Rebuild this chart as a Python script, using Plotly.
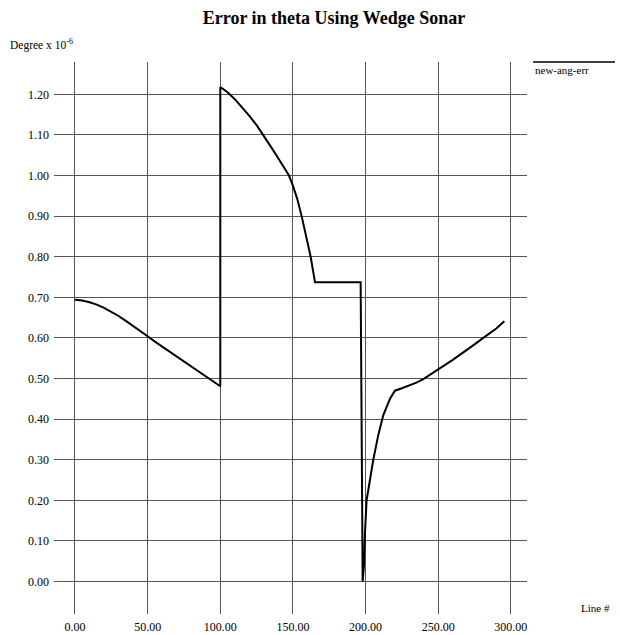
import plotly.graph_objects as go

# Line # values and error values (Degree x 10^-6)
line_no = [0, 5, 10, 15, 20, 25, 30, 35, 40, 45, 50, 55, 60, 65, 70, 75, 80, 85, 90, 95, 100,
           100, 105, 110, 115, 120, 125, 129.6, 135, 140, 144, 147.3, 150, 153, 156, 159, 162.2, 165.2,
           196.6, 198.0, 198.9, 199.6, 200.7, 203, 205.3, 208.7, 212.2, 216.8, 220.2,
           225, 230, 235, 240, 245, 250, 255, 260, 265, 270, 275, 281, 285, 290, 295.5]
err = [0.694, 0.692, 0.688, 0.682, 0.674, 0.665, 0.654, 0.642, 0.630, 0.617, 0.604,
       0.591, 0.579, 0.567, 0.555, 0.543, 0.531, 0.518, 0.506, 0.493, 0.481,
       1.218, 1.205, 1.188, 1.168, 1.147, 1.124, 1.100, 1.070, 1.042, 1.018, 1.000, 0.975, 0.942, 0.900, 0.855, 0.800, 0.737,
       0.737, 0.0, 0.04, 0.12, 0.20, 0.25, 0.30, 0.36, 0.41, 0.45, 0.470,
       0.476, 0.483, 0.490, 0.499, 0.510, 0.522, 0.534, 0.546, 0.558, 0.570, 0.584, 0.600, 0.610, 0.623, 0.641]

x_ticks = [0, 50, 100, 150, 200, 250, 300]
x_tick_labels = ["0.00", "50.00", "100.00", "150.00", "200.00", "250.00", "300.00"]
y_ticks = [0.0, 0.1, 0.2, 0.3, 0.4, 0.5, 0.6, 0.7, 0.8, 0.9, 1.0, 1.1, 1.2]
y_tick_labels = ["0.00", "0.10", "0.20", "0.30", "0.40", "0.50", "0.60",
                 "0.70", "0.80", "0.90", "1.00", "1.10", "1.20"]
series_name = "new-ang-err"

FONT = "Liberation Serif, Times New Roman, serif"

fig = go.Figure()
fig.add_trace(go.Scatter(x=line_no, y=err, mode="lines", name=series_name,
                         line=dict(color="black", width=2), showlegend=False))

fig.update_layout(
    width=620, height=635,
    margin=dict(l=54, r=93, t=62, b=21, autoexpand=False),
    paper_bgcolor="white", plot_bgcolor="white",
    font=dict(family=FONT, size=12, color="black"),
    title=dict(text="<b>Error in theta Using Wedge Sonar</b>", x=334 / 620, xanchor="center",
               xref="container", y=1 - 18 / 635, yanchor="middle", yref="container",
               font=dict(family=FONT, size=18, color="black")),
    xaxis=dict(range=[-14.45, 311.1], tickvals=x_ticks, ticktext=x_tick_labels,
               showgrid=True, gridcolor="#555", gridwidth=1, zeroline=False,
               showline=False, ticks="", ticklabelstandoff=4,
               tickfont=dict(family=FONT, size=12)),
    yaxis=dict(range=[-0.080, 1.2796], tickvals=y_ticks, ticktext=y_tick_labels,
               showgrid=True, gridcolor="#555", gridwidth=1, zeroline=False,
               showline=False, ticks="", ticklabelstandoff=4,
               tickfont=dict(family=FONT, size=12)),
    annotations=[
        dict(text="Degree x 10<sup>-6</sup>", xref="paper", yref="paper",
             x=(8 - 54) / 473, y=(635 - 21 - 45) / 552, xanchor="left", yanchor="middle",
             showarrow=False, font=dict(family=FONT, size=11.5)),
        dict(text="Line #", xref="paper", yref="paper",
             x=(612 - 54) / 473, y=(635 - 21 - 608) / 552, xanchor="right", yanchor="middle",
             showarrow=False, font=dict(family=FONT, size=11)),
        dict(text=series_name, xref="paper", yref="paper",
             x=(533 - 54) / 473, y=(635 - 21 - 70) / 552, xanchor="left", yanchor="middle",
             showarrow=False, font=dict(family=FONT, size=11)),
    ],
    shapes=[
        dict(type="line", xref="paper", yref="paper",
             x0=(533 - 54) / 473, x1=(615 - 54) / 473,
             y0=(635 - 21 - 62) / 552, y1=(635 - 21 - 62) / 552,
             line=dict(color="black", width=1.5)),
    ],
)

fig.write_html("out.html", config={"displayModeBar": False},
               post_script="document.body.style.margin='0';document.body.style.overflow='hidden';")
